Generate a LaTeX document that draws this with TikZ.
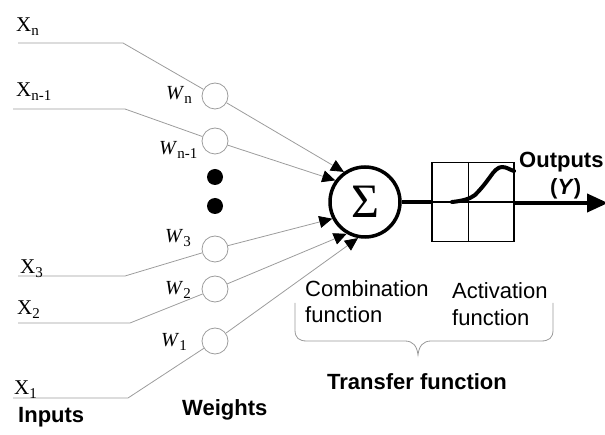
\documentclass[tikz,border=0pt]{standalone}
\usepackage{fontspec}
\setmainfont{Liberation Serif}
\setsansfont{Liberation Sans}
\usetikzlibrary{arrows.meta}

\definecolor{wire}{HTML}{9C9C9C}
\definecolor{bracegray}{HTML}{999999}
\newcommand{\nsub}[1]{\raisebox{-3.5pt}{\fontsize{15}{15}\selectfont #1}}

\begin{document}
\begin{tikzpicture}[x=1pt,y=-1pt,
  weight/.style={circle, draw=wire, line width=0.8pt, minimum size=26pt, inner sep=0pt},
  wiring/.style={draw=wire, line width=0.8pt},
  feed/.style={draw=wire, line width=0.8pt, -{Triangle[length=13pt,width=12pt,color=black]}},
  xlab/.style={font=\fontsize{21}{21}\selectfont, anchor=base west, inner sep=0pt},
  wlab/.style={font=\fontsize{20}{20}\selectfont, anchor=base west, inner sep=0pt},
  sanslab/.style={font=\sffamily\fontsize{22}{22}\selectfont, anchor=base west, inner sep=0pt},
  boldlab/.style={font=\sffamily\bfseries\fontsize{22}{22}\selectfont, anchor=base west, inner sep=0pt},
  dot/.style={circle, fill=black, minimum size=16pt, inner sep=0pt}]

\useasboundingbox (0,0) rectangle (605,435);

% weight circles
\node[weight] (wn)  at (215,96)  {};
\node[weight] (wn1) at (215,141) {};
\node[weight] (w3)  at (215,249) {};
\node[weight] (w2)  at (215,289) {};
\node[weight] (w1)  at (215,341) {};
\node[dot] (d1) at (215,177) {};
\node[dot] (d2) at (215,206) {};

% summing junction
\node[circle, draw, line width=3.5pt, minimum size=70pt, inner sep=0pt] (sigma) at (365,202)
  {\fontsize{48}{48}\selectfont Σ};

% activation box
\node[draw, line width=1.3pt, minimum width=82pt, minimum height=79pt, inner sep=0pt] (box) at (473,202) {};
\draw[line width=1.3pt] (box.north west) ++(37,0) -- ++(0,79);
\draw[line width=1.3pt] (box.west) -- (box.east);
\draw[line width=4pt, line cap=round, line join=round]
  (452,202) .. controls (462,201) and (470,199) .. (475,195)
  .. controls (480,190) and (485,184) .. (490,177)
  .. controls (494,171) and (498,167) .. (502,167)
  .. controls (507,167) and (510,170) .. (514,171);

% inputs
\coordinate (xn)  at (18,43);   \coordinate (xnk)  at (123,43);
\coordinate (xn1) at (13,109);  \coordinate (xn1k) at (125,109);
\coordinate (x3)  at (18,276);  \coordinate (x3k)  at (125,276);
\coordinate (x2)  at (18,323);  \coordinate (x2k)  at (130,323);
\coordinate (x1)  at (13,398);  \coordinate (x1k)  at (128,398);
\draw[wiring] (xn)  -- (xnk)  -- (wn);
\draw[wiring] (xn1) -- (xn1k) -- (wn1);
\draw[wiring] (x3)  -- (x3k)  -- (w3);
\draw[wiring] (x2)  -- (x2k)  -- (w2);
\draw[wiring] (x1)  -- (x1k)  -- (w1);

% weighted signals into the sum
\draw[feed] (wn)  -- (sigma.125);
\draw[feed] (wn1) -- (sigma.144);
\draw[feed] (w3)  -- (sigma.207);
\draw[feed] (w2)  -- (sigma.240);
\draw[feed] (w1)  -- (sigma.259);

% sum to activation, activation to output
\draw[line width=4pt] (sigma) -- (box.west);
\coordinate (yout) at (608,203);
\draw[line width=4pt, -{Triangle[length=21pt,width=18pt]}] (box.east |- yout) -- (yout);

% labels
\node[xlab] (lxn)  at (16,32)  {X\nsub{n}};
\node[xlab] (lxn1) at (16,97)  {X\nsub{n-1}};
\node[xlab] (lx3)  at (20,274) {X\nsub{3}};
\node[xlab] (lx2)  at (17,315) {X\nsub{2}};
\node[xlab] (lx1)  at (14,395) {X\nsub{1}};

\node[wlab] (lwn)  at (166,100) {\textit{W}\nsub{n}};
\node[wlab] (lwn1) at (159,155) {\textit{W}\nsub{n-1}};
\node[wlab] (lw3)  at (165,243) {\textit{W}\nsub{3}};
\node[wlab] (lw2)  at (165,295) {\textit{W}\nsub{2}};
\node[wlab] (lw1)  at (161,347) {\textit{W}\nsub{1}};

\node[boldlab] (inputs)  at (18,422)  {Inputs};
\node[boldlab] (weights) at (182,416) {Weights};
\node[boldlab] (outputs) at (519,168) {Outputs};
\node[boldlab] (yl)      at (550,195) {(\textit{Y})};

\node[sanslab] (comb)  at (305,297) {Combination};
\node[sanslab] (combf) at (305,323) {function};
\node[sanslab] (act)   at (452,299) {Activation};
\node[sanslab] (actf)  at (452,326) {function};

% brace under both stages
\draw[draw=bracegray, line width=0.8pt]
  (295,303) -- (295,330) .. controls (295,338) and (299,341) .. (307,341)
  -- (405,341) .. controls (413,341) and (417,346) .. (418,355)
  .. controls (419,346) and (423,341) .. (431,341)
  -- (541,341) .. controls (549,341) and (553,338) .. (553,330) -- (553,303);

\node[boldlab] (transfer) at (327,389) {Transfer function};

\end{tikzpicture}
\end{document}
